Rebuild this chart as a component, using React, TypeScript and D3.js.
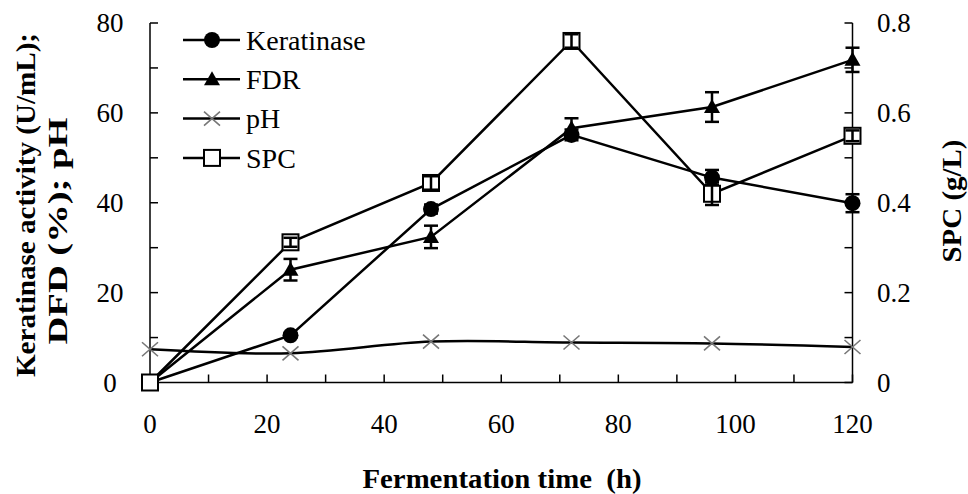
import React from 'react';
import * as d3 from 'd3';

// fermentation time points (h)
const hours: number[] = [0, 24, 48, 72, 96, 120];

const keratinase: number[] = [0, 10.5, 38.6, 55.1, 45.6, 39.9];
const keratinaseErr: number[] = [0, 0.5, 1, 1.2, 1.7, 2];

const fdr: number[] = [0, 25.1, 32.4, 56.6, 61.3, 71.8];
const fdrErr: number[] = [0, 2.4, 2.5, 2.2, 3.3, 2.7];

const ph: number[] = [7.4, 6.5, 9.1, 8.9, 8.7, 7.9];

// SPC on right axis (g/L)
const spc: number[] = [0, 0.312, 0.444, 0.76, 0.42, 0.549];
const spcErr: number[] = [0, 0.01, 0.015, 0.015, 0.025, 0.012];

const legendNames: string[] = ['Keratinase', 'FDR', 'pH', 'SPC'];

const xTicks: number[] = [0, 20, 40, 60, 80, 100, 120];
const leftTicks: number[] = [0, 20, 40, 60, 80];
const rightTicks: number[] = [0, 0.2, 0.4, 0.6, 0.8];

const W = 968;
const H = 494;

let x_scale = d3.scaleLinear().domain([0, 120]).range([150, 852.5]);
let y_left = d3.scaleLinear().domain([0, 80]).range([382.5, 23]);
let y_right = d3.scaleLinear().domain([0, 0.8]).range([382.5, 23]);

const serif = 'Liberation Serif, DejaVu Serif, serif';

const lineGen = (ys: number[], y: any) =>
  d3.line<number>()
    .x((d, i) => x_scale(hours[i]))
    .y(d => y(d))(ys) as string;

const phLine = d3.line<number>()
  .x((d, i) => x_scale(hours[i]))
  .y(d => y_left(d))
  .curve(d3.curveCatmullRom.alpha(0.5))(ph) as string;

const triPath = 'M0,-8L8,6L-8,6Z';

function Marker({ kind, cx, cy }: { kind: string; cx: number; cy: number }) {
  if (kind === 'Keratinase') return <circle cx={cx} cy={cy} r={8} fill="#000" />;
  if (kind === 'FDR') return <path d={triPath} transform={`translate(${cx},${cy})`} fill="#000" />;
  if (kind === 'pH')
    return (
      <path d="M-8,-7L8,7M-8,7L8,-7" transform={`translate(${cx},${cy})`} stroke="#777" strokeWidth={1.6} fill="none" />
    );
  return <rect x={cx - 8} y={cy - 8} width={16} height={16} fill="#fff" stroke="#000" strokeWidth={2} />;
}

function ErrBars({ vals, errs, y }: { vals: number[]; errs: number[]; y: any }) {
  return (
    <g stroke="#000" strokeWidth={2.5}>
      {vals.map((v, i) => {
        if (!errs[i]) return null;
        const cx = x_scale(hours[i]);
        const y1 = y(v + errs[i]);
        const y2 = y(v - errs[i]);
        return (
          <g key={i}>
            <line x1={cx} x2={cx} y1={y1} y2={y2} />
            <line x1={cx - 7} x2={cx + 7} y1={y1} y2={y1} />
            <line x1={cx - 7} x2={cx + 7} y1={y2} y2={y2} />
          </g>
        );
      })}
    </g>
  );
}

export default function App() {
  const x0 = x_scale(0);
  const x1 = x_scale(120);
  const yb = y_left(0);
  const yt = y_left(80);

  const xMinor = d3.range(10, 121, 10);
  const leftMinor = d3.range(0, 81, 10);
  const rightMinor = d3.range(0, 9, 1).map(d => d / 10);

  return (
    <svg width={W} height={H} style={{ position: 'absolute', left: 0, top: 0, background: '#fff', fontFamily: serif }}>
      {/* axes */}
      <g stroke="#000" strokeWidth={1.5}>
        <line x1={x0} x2={x0} y1={yt} y2={yb} />
        <line x1={x1} x2={x1} y1={yt} y2={yb} />
        <line x1={x0} x2={x1} y1={yb} y2={yb} />
        {xMinor.map(d => (
          <line key={'x' + d} x1={x_scale(d)} x2={x_scale(d)} y1={yb} y2={yb - 8} />
        ))}
        {leftMinor.map(d => (
          <line key={'l' + d} x1={x0} x2={x0 + 8} y1={y_left(d)} y2={y_left(d)} />
        ))}
        {rightMinor.map(d => (
          <line key={'r' + d} x1={x1} x2={x1 - 8} y1={y_right(d)} y2={y_right(d)} />
        ))}
      </g>

      {/* tick labels */}
      <g style={{ fontFamily: serif }} fontSize={27} fill="#000">
        {xTicks.map(d => (
          <text key={'xt' + d} x={x_scale(d)} y={433} textAnchor="middle">{d}</text>
        ))}
        {leftTicks.map(d => (
          <text key={'lt' + d} x={110} y={y_left(d)} dy="0.35em" textAnchor="middle">{d}</text>
        ))}
        {rightTicks.map(d => (
          <text key={'rt' + d} x={877} y={y_right(d)} dy="0.35em" textAnchor="start">{d === 0 ? '0' : d.toFixed(1)}</text>
        ))}
      </g>

      {/* axis titles */}
      <g style={{ fontFamily: serif }} fontSize={28} fontWeight="bold" fill="#000">
        <text x={502} y={488} textAnchor="middle" textLength={279} lengthAdjust="spacingAndGlyphs" style={{ whiteSpace: 'pre' }}>
          {'Fermentation time  (h)'}
        </text>
        <text transform="translate(35,205) rotate(-90)" textAnchor="middle" textLength={344} lengthAdjust="spacingAndGlyphs">
          Keratinase activity (U/mL);
        </text>
        <text transform="translate(67,231) rotate(-90)" textAnchor="middle" textLength={227} lengthAdjust="spacingAndGlyphs">
          DFD (%); pH
        </text>
        <text transform="translate(961,201) rotate(-90)" textAnchor="middle" textLength={123} lengthAdjust="spacingAndGlyphs">
          SPC (g/L)
        </text>
      </g>

      {/* series lines */}
      <g fill="none" stroke="#000" strokeWidth={2.5}>
        <path d={lineGen(keratinase, y_left)} />
        <path d={lineGen(fdr, y_left)} />
        <path d={phLine} />
        <path d={lineGen(spc, y_right)} />
      </g>

      <ErrBars vals={keratinase} errs={keratinaseErr} y={y_left} />
      <ErrBars vals={fdr} errs={fdrErr} y={y_left} />

      {keratinase.map((d, i) => <Marker key={'k' + i} kind="Keratinase" cx={x_scale(hours[i])} cy={y_left(d)} />)}
      {fdr.map((d, i) => <Marker key={'f' + i} kind="FDR" cx={x_scale(hours[i])} cy={y_left(d)} />)}
      {ph.map((d, i) => <Marker key={'p' + i} kind="pH" cx={x_scale(hours[i])} cy={y_left(d)} />)}
      {spc.map((d, i) => <Marker key={'s' + i} kind="SPC" cx={x_scale(hours[i])} cy={y_right(d)} />)}
      <ErrBars vals={spc} errs={spcErr} y={y_right} />

      {/* legend */}
      <g>
        {legendNames.map((name, i) => {
          const ly = 40 + i * 39.3;
          return (
            <g key={name}>
              <line x1={183} x2={240} y1={ly} y2={ly} stroke="#000" strokeWidth={2.5} />
              <Marker kind={name} cx={212} cy={ly} />
              <text x={246} y={ly} dy="0.35em" fontSize={28} fill="#000">{name}</text>
            </g>
          );
        })}
      </g>
    </svg>
  );
}
